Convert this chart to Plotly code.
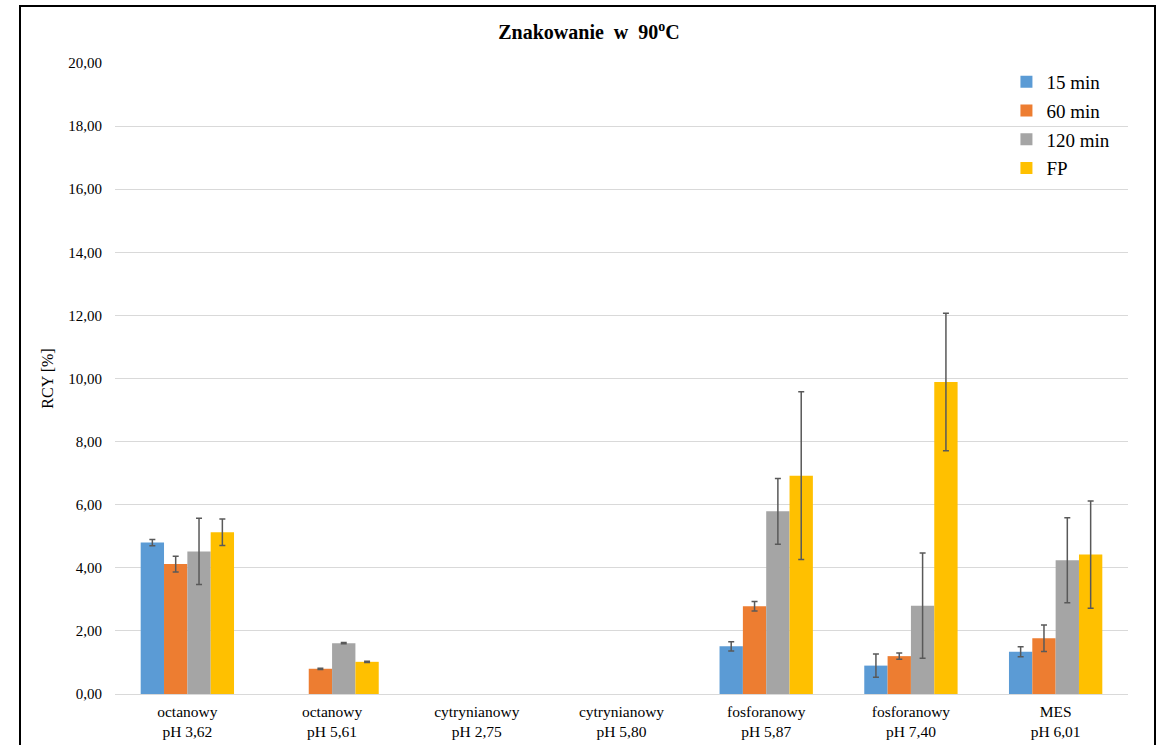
import plotly.graph_objects as go

# Buffer groups (two-line tick labels)
categories = [
    "octanowy<br>pH 3,62",
    "octanowy<br>pH 5,61",
    "cytrynianowy<br>pH 2,75",
    "cytrynianowy<br>pH 5,80",
    "fosforanowy<br>pH 5,87",
    "fosforanowy<br>pH 7,40",
    "MES<br>pH 6,01",
]

series_names = ["15 min", "60 min", "120 min", "FP"]

# Radiochemical yield [%] per time point; None = no result
rcy_15 = [4.80, None, None, None, 1.51, 0.90, 1.34]
rcy_60 = [4.12, 0.80, None, None, 2.78, 1.20, 1.77]
rcy_120 = [4.52, 1.61, None, None, 5.79, 2.80, 4.24]
rcy_fp = [5.13, 1.02, None, None, 6.92, 9.89, 4.42]

# Standard deviations
sd_15 = [0.10, None, None, None, 0.15, 0.37, 0.16]
sd_60 = [0.25, 0.02, None, None, 0.15, 0.10, 0.42]
sd_120 = [1.05, 0.02, None, None, 1.04, 1.67, 1.35]
sd_fp = [0.42, 0.02, None, None, 2.66, 2.18, 1.70]

colors = ["#5b9bd5", "#ed7d31", "#a5a5a5", "#ffc000"]

values = [rcy_15, rcy_60, rcy_120, rcy_fp]
errors = [sd_15, sd_60, sd_120, sd_fp]

serif = "Liberation Serif"

fig = go.Figure()
for name, vals, errs, col in zip(series_names, values, errors, colors):
    fig.add_trace(go.Bar(
        x=categories,
        y=vals,
        name=name,
        legendgroup=name,
        marker=dict(color=col, line=dict(width=0)),
        error_y=dict(type="data", array=errs, visible=True,
                     color="#595959", thickness=1.5, width=3),
    ))

fig.update_layout(
    width=1158,
    height=745,
    barmode="group",
    bargap=0.355,
    bargroupgap=0,
    separators=", ",
    paper_bgcolor="white",
    plot_bgcolor="white",
    margin=dict(l=115, r=30, t=63, b=51),
    font=dict(family=serif, color="#000000", size=15),
    title=dict(
        text="<b>Znakowanie  w  90<sup>o</sup>C</b>",
        x=589 / 1158, xanchor="center", xref="container",
        y=1 - 32 / 745, yanchor="middle", yref="container",
        font=dict(family=serif, size=20, color="#000000"),
    ),
    legend=dict(
        x=0.88, xanchor="left",
        y=1.0, yanchor="top",
        font=dict(family=serif, size=19, color="#000000"),
        tracegroupgap=1,
        bgcolor="rgba(0,0,0,0)",
        itemclick=False,
    ),
    showlegend=True,
)

fig.update_yaxes(
    range=[0, 20],
    dtick=2,
    tickformat=".2f",
    showgrid=True,
    gridcolor="#d9d9d9",
    gridwidth=1,
    zeroline=False,
    showline=False,
    ticks="",
    automargin=False,
    ticklabelstandoff=12,
    tickfont=dict(family=serif, size=15, color="#000000"),
    title=dict(text="RCY [%]", font=dict(family=serif, size=16, color="#000000"), standoff=10),
)

fig.update_xaxes(
    showline=True,
    linecolor="#d9d9d9",
    linewidth=1,
    ticks="",
    showgrid=False,
    automargin=False,
    ticklabelstandoff=3,
    tickfont=dict(family=serif, size=15.5, color="#000000"),
)

# Outer frame of the chart
fig.add_shape(
    type="rect", xref="paper", yref="paper",
    x0=(20 - 115) / 1013, x1=(1155 - 115) / 1013,
    y0=(694 - 770) / 631, y1=(694 - 6) / 631,
    line=dict(color="#000000", width=2),
    fillcolor="rgba(0,0,0,0)",
    layer="above",
)

fig.write_html("out.html")
